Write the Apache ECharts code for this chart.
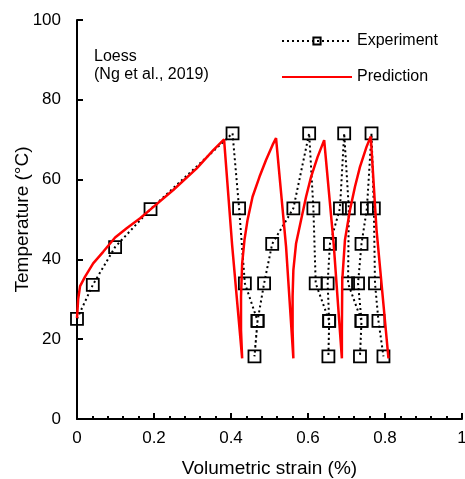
<!DOCTYPE html>
<html>
<head>
<meta charset="utf-8">
<script src="https://cdn.jsdelivr.net/npm/echarts@6/dist/echarts.min.js"></script>
<style>
html,body{margin:0;padding:0;background:#fff;}
#chart{width:465px;height:479px;}
</style>
</head>
<body>
<div id="chart"></div>
<script>
// Experiment: [volumetric strain (%), temperature (°C)] in test order
const experimentStrain = [0, 0.041, 0.099, 0.191, 0.404,
  0.421, 0.436, 0.469, 0.461,
  0.469, 0.486, 0.507, 0.562, 0.603,
  0.614, 0.620, 0.655, 0.653,
  0.655, 0.651, 0.657, 0.683, 0.694,
  0.706, 0.704, 0.739, 0.735,
  0.739, 0.730, 0.739, 0.753, 0.765,
  0.771, 0.774, 0.783, 0.796];
const experimentTemp = [25.1, 33.6, 43.1, 52.6, 71.6,
  52.8, 34.0, 24.6, 15.7,
  24.6, 34.0, 43.9, 52.8, 71.6,
  52.8, 34.0, 24.6, 15.7,
  24.6, 34.0, 43.9, 52.8, 71.6,
  52.8, 34.0, 24.6, 15.7,
  24.6, 34.0, 43.9, 52.8, 71.6,
  52.8, 34.0, 24.6, 15.7];

// Prediction curve (heating / cooling cycles)
const predictionStrain = [0, 0.003, 0.008, 0.021, 0.042, 0.068, 0.099, 0.129, 0.164, 0.194, 0.250, 0.311, 0.354, 0.382,
  0.403, 0.429,
  0.426, 0.426, 0.429, 0.435, 0.443, 0.456, 0.474, 0.491, 0.508, 0.517,
  0.543, 0.562,
  0.560, 0.560, 0.562, 0.569, 0.582, 0.595, 0.608, 0.625, 0.642, 0.645,
  0.667, 0.688,
  0.688, 0.689, 0.696, 0.709, 0.722, 0.735, 0.752, 0.763,
  0.778, 0.809];
const predictionTemp = [25.3, 30.0, 33.3, 35.7, 39.0, 41.9, 45.5, 47.8, 50.3, 52.8, 57.4, 62.8, 67.4, 70.1,
  43.5, 15.2,
  22.3, 30.7, 39.0, 44.9, 49.9, 55.7, 60.7, 64.9, 68.7, 70.4,
  43.2, 15.2,
  22.3, 30.7, 37.3, 44.0, 49.9, 55.7, 60.7, 65.7, 69.9, 70.4,
  43.5, 15.2,
  22.3, 34.8, 44.9, 52.4, 58.2, 63.2, 68.2, 70.8,
  47.4, 15.2];

const xTicks = [0, 0.2, 0.4, 0.6, 0.8, 1];
const yTicks = [0, 20, 40, 60, 80, 100];

const pair = (xs, ys) => xs.map((x, i) => [x, ys[i]]);
const FONT = '"Liberation Sans", Arial, sans-serif';

const chart = echarts.init(document.getElementById('chart'), null, {renderer: 'canvas'});
chart.setOption({
  animation: false,
  backgroundColor: '#fff',
  textStyle: {fontFamily: FONT, color: '#000'},
  grid: {left: 77, right: 3, top: 20, bottom: 60, containLabel: false, outerBoundsMode: 'none'},
  legend: {
    orient: 'vertical',
    left: 276, top: 28,
    itemWidth: 70, itemHeight: 9, itemGap: 20,
    textStyle: {fontFamily: FONT, fontSize: 16, color: '#000'},
    data: ['Experiment', {name: 'Prediction', itemStyle: {opacity: 0}}]
  },
  graphic: [
    {type: 'text', left: 94, top: 49, style: {text: 'Loess', font: '16px ' + FONT, fill: '#000'}},
    {type: 'text', left: 94, top: 67, style: {text: '(Ng et al., 2019)', font: '16px ' + FONT, fill: '#000'}}
  ],
  xAxis: {
    type: 'value', min: xTicks[0], max: xTicks[xTicks.length - 1], interval: 0.2,
    name: 'Volumetric strain (%)', nameLocation: 'middle', nameGap: 40,
    nameMoveOverlap: false,
    nameTextStyle: {fontFamily: FONT, fontSize: 19, color: '#000'},
    axisLine: {show: true, onZero: false, lineStyle: {color: '#000', width: 2}},
    axisTick: {show: true, inside: true, length: 6, lineStyle: {color: '#000', width: 2}},
    minorTick: {show: true, splitNumber: 5, length: 3, lineStyle: {color: '#000', width: 2}},
    axisLabel: {fontFamily: FONT, fontSize: 17, color: '#000', margin: 11},
    splitLine: {show: false}
  },
  yAxis: {
    type: 'value', min: yTicks[0], max: yTicks[yTicks.length - 1], interval: 20,
    name: 'Temperature (°C)', nameLocation: 'middle', nameGap: 45,
    nameMoveOverlap: false,
    nameTextStyle: {fontFamily: FONT, fontSize: 19, color: '#000'},
    axisLine: {show: true, onZero: false, lineStyle: {color: '#000', width: 2}},
    axisTick: {show: true, inside: true, length: 6, lineStyle: {color: '#000', width: 2}},
    axisLabel: {fontFamily: FONT, fontSize: 17, color: '#000', margin: 16},
    splitLine: {show: false}
  },
  series: [
    {
      name: 'Experiment', type: 'line',
      data: pair(experimentStrain, experimentTemp),
      symbol: 'rect', symbolSize: 12, showAllSymbol: true,
      lineStyle: {color: '#000', width: 2, type: [2, 3]},
      itemStyle: {color: 'rgba(255,255,255,0)', borderColor: '#000', borderWidth: 1.8},
      z: 2
    },
    {
      name: 'Prediction', type: 'line',
      data: pair(predictionStrain, predictionTemp),
      symbol: 'none', smooth: false,
      lineStyle: {color: '#ff0000', width: 2.5},
      itemStyle: {color: '#ff0000'},
      z: 3
    }
  ]
});
</script>
</body>
</html>
